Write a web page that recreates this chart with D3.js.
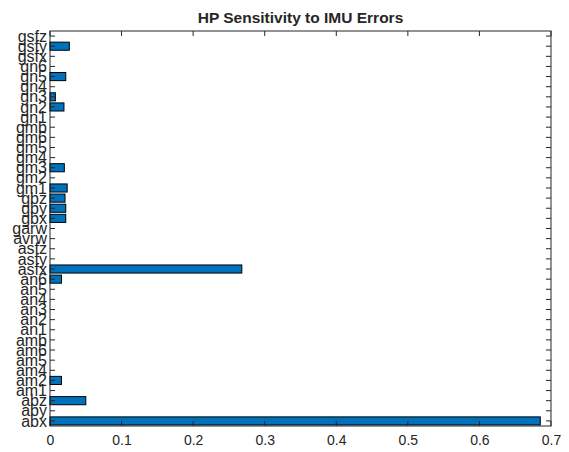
<html>
<script src="https://d3js.org/d3.v7.min.js"></script>
<style>
body { margin: 0; background: #fff; }
text { font-family: "Liberation Sans", Arial, sans-serif; fill: #262626; }
</style>
<body>
<svg id="chart"></svg>
<script>
// categories from bottom to top
const categories = ["abx","aby","abz","am1","am2","am4","am5","am6","amb","an1","an2","an3","an4","an5","an6",
  "asfx","asfy","asfz","avrw","garw","gbx","gby","gbz","gm1","gm2","gm3","gm4","gm5","gm6","gmb",
  "gn1","gn2","gn3","gn4","gn5","gn6","gsfx","gsfy","gsfz"];
const values = [0.685,0,0.050,0,0.016,0,0,0,0,0,0,0,0,0,0.016,
  0.268,0,0,0,0,0.022,0.022,0.021,0.024,0,0.020,0,0,0,0,
  0,0.0195,0.0075,0,0.022,0,0,0.027,0];
const xTicks = [0,0.1,0.2,0.3,0.4,0.5,0.6,0.7];
const title = "HP Sensitivity to IMU Errors";

const W = 569, H = 452;
const mLeft = 50, mRight = 551, mTop = 31, mBottom = 426;
const axisColor = "#262626";

const svg = d3.select("#chart").attr("width", W).attr("height", H);

const x = d3.scaleLinear().domain([0, 0.7]).range([mLeft, mRight]);
const y = d3.scaleLinear().domain([0.5, categories.length + 0.5]).range([mBottom, mTop]);
const step = y(1) - y(2);

// bars (zero-length bars are not drawn)
const barData = values.map((v, i) => ({ v: v, pos: i + 1 })).filter(d => d.v > 0);
svg.selectAll("rect.bar")
  .data(barData)
  .enter()
  .append("rect")
  .attr("class", "bar")
  .attr("x", x(0))
  .attr("y", d => y(d.pos) - step * 0.4)
  .attr("width", d => x(d.v) - x(0))
  .attr("height", step * 0.8)
  .attr("fill", "#0072BD")
  .attr("stroke", "#000")
  .attr("stroke-width", 1);

// axes
const xAxis = d3.axisBottom(x).tickValues(xTicks).tickSize(0).tickPadding(9)
  .tickFormat(d => d3.format("")(d));
const gx = svg.append("g").attr("transform", `translate(0,${mBottom})`).call(xAxis);
gx.select(".domain").remove();
gx.selectAll("text").style("font-size", "14px").attr("fill", axisColor);

const yAxis = d3.axisLeft(y).tickValues(d3.range(1, categories.length + 1)).tickSize(0).tickPadding(3)
  .tickFormat(d => categories[d - 1]);
const gy = svg.append("g").attr("transform", `translate(${mLeft},0)`).call(yAxis);
gy.select(".domain").remove();
gy.selectAll("text").style("font-size", "16px").attr("fill", axisColor);

// tick marks (inside, on all four sides)
const tl = 5;
xTicks.forEach(t => {
  svg.append("line").attr("x1", x(t)).attr("x2", x(t)).attr("y1", mBottom).attr("y2", mBottom - tl)
    .attr("stroke", axisColor);
  svg.append("line").attr("x1", x(t)).attr("x2", x(t)).attr("y1", mTop).attr("y2", mTop + tl)
    .attr("stroke", axisColor);
});
categories.forEach((c, i) => {
  svg.append("line").attr("x1", mLeft).attr("x2", mLeft + tl).attr("y1", y(i + 1)).attr("y2", y(i + 1))
    .attr("stroke", axisColor);
  svg.append("line").attr("x1", mRight).attr("x2", mRight - tl).attr("y1", y(i + 1)).attr("y2", y(i + 1))
    .attr("stroke", axisColor);
});

// box
svg.append("rect").attr("x", mLeft).attr("y", mTop).attr("width", mRight - mLeft).attr("height", mBottom - mTop)
  .attr("fill", "none").attr("stroke", axisColor).attr("stroke-width", 1);

// title
svg.append("text").attr("x", (mLeft + mRight) / 2).attr("y", 23).attr("text-anchor", "middle")
  .style("font-size", "15.5px").style("font-weight", "bold").attr("fill", "#000").text(title);
</script>
</body>
</html>
